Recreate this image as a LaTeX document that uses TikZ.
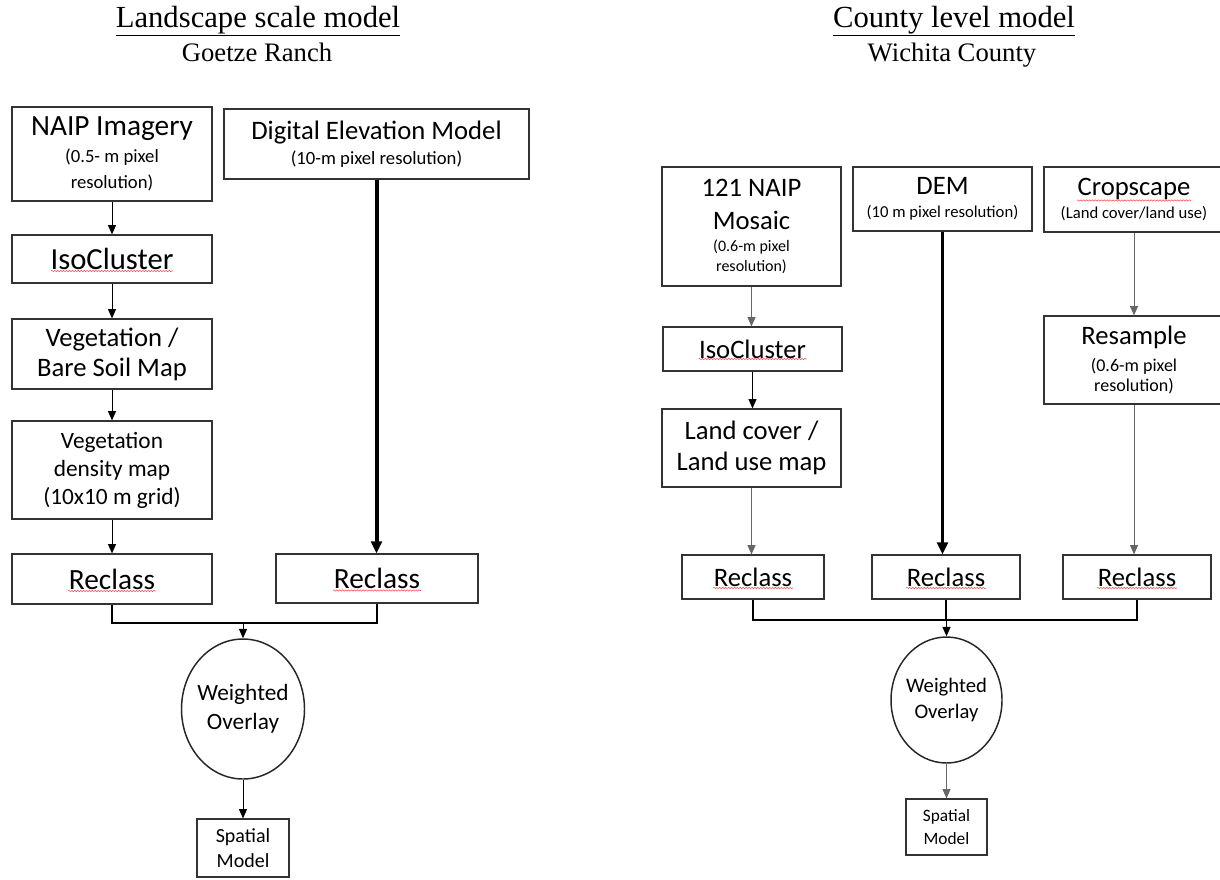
\documentclass[tikz,border=0pt]{standalone}
\usepackage{fontspec}
\setmainfont{Carlito}
\newfontfamily\serifttl{Liberation Serif}
\usetikzlibrary{arrows.meta,shapes.geometric,decorations.pathmorphing}

\newcommand{\fs}[2]{\fontsize{#1}{#2}\selectfont}

\begin{document}
\begin{tikzpicture}[x=0.75pt,y=-0.75pt,
    box/.style={draw=black!80,line width=0.9pt,rectangle,align=center,inner sep=0pt},
    oval/.style={draw=black!85,line width=1.1pt,ellipse,inner sep=0pt},
    ttl/.style={font=\serifttl\fs{23}{27},anchor=base},
    sub/.style={font=\serifttl\fs{20}{24},anchor=base},
    arr/.style={-{Triangle[length=7pt,width=6pt]},line width=0.75pt},
    garr/.style={arr,draw=black!60,fill=black},
    thickarr/.style={-{Triangle[length=9pt,width=8pt]},line width=3pt},
    merge/.style={line width=2.2pt},
    squig/.style={red!70,line width=0.4pt,decorate,decoration={snake,amplitude=0.5pt,segment length=2.2pt}}]
    \useasboundingbox (0,0) rectangle (1220,879);

    % Titles
    \node[ttl] (ttlL) at (258,27) {\underline{Landscape scale model}};
    \node[sub] (subL) at (257,61) {Goetze Ranch};
    \node[ttl] (ttlR) at (954,27) {\underline{County level model}};
    \node[sub] (subR) at (952,61) {Wichita County};

    % Landscape scale model
    \node[box,minimum width=150pt,minimum height=70.5pt,font=\fs{22}{20}] (naip) at (112,154)
        {NAIP Imagery\\\fs{14}{20}(0.5- m pixel\\\fs{14}{20}resolution)};
    \node[box,minimum width=228.75pt,minimum height=52.5pt,font=\fs{20}{19}] (demL) at (376.5,144)
        {Digital Elevation Model\\\fs{14}{19}(10-m pixel resolution)};
    \node[box,minimum width=150pt,minimum height=36pt,font=\fs{23}{27}] (isoL) at (112,259) {IsoCluster};
    \node[box,minimum width=150pt,minimum height=52.5pt,font=\fs{20}{22.5}] (bare) at (112,354)
        {Vegetation /\\Bare Soil Map};
    \node[box,minimum width=150pt,minimum height=73.5pt,font=\fs{17.5}{21}] (dens) at (112,470)
        {Vegetation\\density map\\(10x10 m grid)};
    \node[box,minimum width=150pt,minimum height=37.5pt,font=\fs{22}{26}] (reclA) at (112,579) {Reclass};
    \node[box,minimum width=151.5pt,minimum height=36.75pt,font=\fs{22}{26}] (reclB) at (377,578.5) {Reclass};
    \node[oval,minimum width=92.25pt,minimum height=105pt,
        label={[font=\fs{17.5}{21.5},align=center]center:{Weighted\\Overlay}}] (wovL) at (243,709) {};
    \node[box,minimum width=69pt,minimum height=43.5pt,font=\fs{15}{18.5}] (spatL) at (243,848) {Spatial\\Model};

    \draw[arr] (naip) -- (isoL);
    \draw[arr] (isoL) -- (bare);
    \draw[arr] (bare) -- (dens);
    \draw[arr] (dens) -- (reclA);
    \draw[thickarr] (demL.south) -- (demL.south |- reclB.north);
    \coordinate (jL) at (243,623);
    \draw[merge] (reclA.south) |- (jL) -| (reclB.south);
    \draw[arr] (jL) -- (wovL);
    \draw[arr] (wovL) -- (spatL);

    % County level model
    \node[box,minimum width=134.25pt,minimum height=89.25pt,font=\fs{20}{15}] (mosaic) at (751.5,226.5)
        {121 NAIP\\[9.75pt]Mosaic\\[1.5pt]\fs{12}{15}(0.6-m pixel\\\fs{12}{15}resolution)};
    \node[box,minimum width=134.25pt,minimum height=48pt,font=\fs{20}{17}] (demR) at (942.5,199)
        {DEM\\\fs{12.5}{17}(10 m pixel resolution)};
    \node[box,minimum width=135pt,minimum height=48.75pt,font=\fs{20}{17}] (crop) at (1134,199.5)
        {Cropscape\\\fs{12.5}{17}(Land cover/land use)};
    \node[box,minimum width=134.25pt,minimum height=33pt,font=\fs{20}{24}] (isoR) at (752.5,349) {IsoCluster};
    \node[box,minimum width=134.25pt,minimum height=58.5pt,font=\fs{20}{23}] (land) at (751.5,448)
        {Land cover /\\Land use map};
    \node[box,minimum width=135pt,minimum height=66pt,font=\fs{20}{15}] (resamp) at (1134,360)
        {Resample\\[5pt]\fs{13.5}{15}(0.6-m pixel\\\fs{13.5}{15}resolution)};
    \node[box,minimum width=106.5pt,minimum height=33pt,font=\fs{20}{24}] (reclC) at (753,577) {Reclass};
    \node[box,minimum width=111pt,minimum height=33pt,font=\fs{20}{24}] (reclD) at (946,577) {Reclass};
    \node[box,minimum width=111pt,minimum height=33pt,font=\fs{20}{24}] (reclE) at (1137,577) {Reclass};
    \node[oval,minimum width=83.25pt,minimum height=94.5pt,
        label={[font=\fs{15.5}{20},align=center]center:{Weighted\\Overlay}}] (wovR) at (946.5,700) {};
    \node[box,minimum width=60.75pt,minimum height=42pt,font=\fs{13}{17.5}] (spatR) at (946.5,827) {Spatial\\Model};

    \draw[garr] (mosaic.south) -- (mosaic.south |- isoR.north);
    \draw[arr] (isoR.south) -- (isoR.south |- land.north);
    \draw[garr] (land.south) -- (land.south |- reclC.north);
    \draw[thickarr,line width=2.3pt] (demR.south) -- (demR.south |- reclD.north);
    \draw[garr] (crop) -- (resamp);
    \draw[garr] (resamp.south) -- (resamp.south |- reclE.north);
    \coordinate (jR) at (946.5,620);
    \draw[merge,line width=1.9pt] (reclC.south) |- (jR) -| (reclE.south);
    \draw[merge,line width=1.9pt] (reclD.south) -- (reclD.south |- jR);
    \draw[arr] (jR) -- (wovR);
    \draw[garr] (wovR) -- (spatR);

    % Spelling marks
    \foreach \n/\w/\d in {isoL/61/12, reclA/44/12, reclB/44/12, isoR/54/10,
        reclC/40/11, reclD/40/11, reclE/40/11, crop/57/1}
        \draw[squig] ([shift={(-\w,\d)}]\n.center) -- ([shift={(\w,\d)}]\n.center);
\end{tikzpicture}
\end{document}
